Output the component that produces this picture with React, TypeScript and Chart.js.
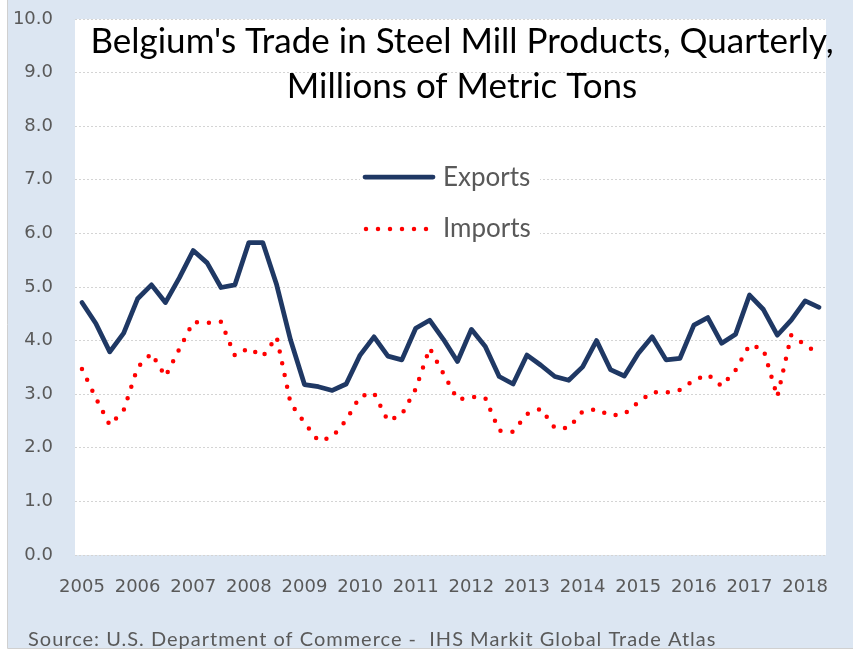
import React, { useEffect, useRef } from "react";
import { Chart, registerables } from "chart.js";

Chart.register(...registerables);

const tickYears = ["2005","2006","2007","2008","2009","2010","2011","2012","2013","2014","2015","2016","2017","2018"];
const quarterNames = ["Q1","Q2","Q3","Q4"];
const lastQuarterCount = 2; // data ends 2018 Q2

const exportsSeries = [
  4.71, 4.32, 3.79, 4.14, 4.78, 5.04, 4.71, 5.17, 5.68, 5.45,
  4.99, 5.04, 5.83, 5.83, 5.04, 4.01, 3.18, 3.14, 3.07, 3.19,
  3.73, 4.07, 3.71, 3.64, 4.23, 4.38, 4.02, 3.61, 4.21, 3.89,
  3.33, 3.19, 3.73, 3.54, 3.33, 3.26, 3.51, 4.00, 3.46, 3.34,
  3.76, 4.07, 3.64, 3.67, 4.29, 4.43, 3.95, 4.12, 4.85, 4.58,
  4.10, 4.38, 4.74, 4.62
];

const importsSeries = [
  3.47, 2.93, 2.42, 2.70, 3.50, 3.76, 3.33, 3.84, 4.35, 4.33,
  4.35, 3.72, 3.86, 3.70, 4.07, 2.83, 2.47, 2.13, 2.20, 2.52,
  2.96, 3.02, 2.50, 2.62, 3.10, 3.86, 3.38, 2.90, 2.95, 2.93,
  2.32, 2.30, 2.63, 2.73, 2.37, 2.37, 2.68, 2.72, 2.60, 2.63,
  2.85, 3.04, 3.03, 3.08, 3.26, 3.37, 3.15, 3.45, 3.92, 3.84,
  2.95, 4.10, 3.92, 3.75
];

const titleLines = ["Belgium's Trade in Steel Mill Products, Quarterly,", "Millions of Metric Tons"];
const seriesNames = ["Exports", "Imports"];
const sourceText = "Source: U.S. Department of Commerce -  IHS Markit Global Trade Atlas";

const quarterLabels: string[] = [];
tickYears.forEach((y, yi) => {
  const n = yi === tickYears.length - 1 ? lastQuarterCount : 4;
  for (let q = 0; q < n; q++) quarterLabels.push(y + " " + quarterNames[q]);
});

const W = 853;
const H = 651;
const BLUE = "#dce6f2";
const NAVY = "#1f3864";
const RED = "#ff0000";
const GRAY_TEXT = "#595959";

const decorPlugin = {
  id: "decor",
  beforeDraw(chart: any) {
    const { ctx, chartArea } = chart;
    ctx.save();
    ctx.fillStyle = "#ffffff";
    ctx.fillRect(0, 0, W, H);
    ctx.fillStyle = BLUE;
    ctx.fillRect(8, 0, W - 8, 648);
    ctx.strokeStyle = "#d0d0d0";
    ctx.lineWidth = 1;
    ctx.beginPath();
    ctx.moveTo(7.5, 0);
    ctx.lineTo(7.5, 648.5);
    ctx.lineTo(W, 648.5);
    ctx.stroke();
    ctx.fillStyle = "#ffffff";
    ctx.fillRect(chartArea.left, chartArea.top, chartArea.right - chartArea.left, chartArea.bottom - chartArea.top);
    ctx.restore();
  },
  afterDatasetsDraw(chart: any) {
    const { ctx } = chart;
    ctx.save();
    ctx.fillStyle = "#000000";
    ctx.font = "35px Lato";
    ctx.textAlign = "center";
    ctx.textBaseline = "alphabetic";
    ctx.fillText(titleLines[0], 462, 53);
    ctx.fillText(titleLines[1], 462, 98);

    ctx.fillStyle = "#ffffff";
    ctx.fillRect(360, 160, 180, 90);
    const ds = chart.data.datasets;
    ctx.strokeStyle = ds[0].borderColor;
    ctx.lineWidth = ds[0].borderWidth;
    ctx.lineCap = "round";
    ctx.beginPath();
    ctx.moveTo(365, 177);
    ctx.lineTo(433, 177);
    ctx.stroke();
    ctx.strokeStyle = ds[1].borderColor;
    ctx.lineWidth = ds[1].borderWidth;
    ctx.setLineDash(ds[1].borderDash);
    ctx.beginPath();
    ctx.moveTo(366, 229);
    ctx.lineTo(432, 229);
    ctx.stroke();
    ctx.setLineDash([]);
    ctx.fillStyle = GRAY_TEXT;
    ctx.font = "26px Lato";
    ctx.textAlign = "left";
    ctx.textBaseline = "middle";
    ctx.fillText(seriesNames[0], 443, 178);
    ctx.fillText(seriesNames[1], 443, 229);

    ctx.font = "20px Lato";
    (ctx as any).letterSpacing = "1px";
    ctx.textBaseline = "alphabetic";
    ctx.fillText(sourceText, 28, 646);
    (ctx as any).letterSpacing = "0px";
    ctx.restore();
  },
};

export default function App() {
  const ref = useRef<HTMLCanvasElement | null>(null);
  useEffect(() => {
    if (!ref.current) return;
    const chart = new Chart(ref.current, {
      type: "line",
      data: {
        labels: quarterLabels,
        datasets: [
          {
            label: seriesNames[0],
            data: exportsSeries,
            borderColor: NAVY,
            backgroundColor: NAVY,
            borderWidth: 4.75,
            pointRadius: 0,
            tension: 0,
            borderJoinStyle: "round",
            borderCapStyle: "round",
          },
          {
            label: seriesNames[1],
            data: importsSeries,
            borderColor: RED,
            backgroundColor: RED,
            borderWidth: 4.5,
            borderDash: [0, 12],
            borderCapStyle: "round",
            borderJoinStyle: "round",
            pointRadius: 0,
            tension: 0,
          },
        ],
      },
      options: {
        animation: false,
        responsive: false,
        devicePixelRatio: 1,
        layout: { padding: { top: 19, right: 27, left: 0, bottom: 0 } },
        plugins: {
          legend: { display: false },
          title: { display: false },
          tooltip: { enabled: false },
        },
        scales: {
          x: {
            type: "category",
            offset: true,
            grid: { display: false, drawTicks: false },
            border: { display: false },
            ticks: {
              autoSkip: false,
              maxRotation: 0,
              minRotation: 0,
              padding: 22,
              color: GRAY_TEXT,
              font: { family: "DejaVu Sans", size: 18 },
              callback: (_v: any, i: number) =>
                quarterLabels[i].endsWith("Q1") ? quarterLabels[i].slice(0, 4) : "",
            },
            afterFit: (scale: any) => {
              scale.height = 96;
              scale.paddingLeft = 0;
              scale.paddingRight = 0;
            },
          },
          y: {
            min: 0,
            max: 10,
            grid: { color: "#d4d4d4", lineWidth: 1, drawTicks: false },
            border: { display: false, dash: [2, 2] },
            ticks: {
              stepSize: 1,
              padding: 22,
              color: GRAY_TEXT,
              font: { family: "DejaVu Sans", size: 18 },
              callback: (v: any) => Number(v).toFixed(1),
            },
            afterFit: (scale: any) => {
              scale.width = 75;
              scale.paddingTop = 0;
              scale.paddingBottom = 0;
            },
          },
        },
      },
      plugins: [decorPlugin],
    });
    return () => chart.destroy();
  }, []);
  return (
    <div style={{ position: "fixed", left: 0, top: 0, width: W, height: H }}>
      <canvas ref={ref} width={W} height={H} style={{ width: W, height: H, display: "block" }} />
    </div>
  );
}
